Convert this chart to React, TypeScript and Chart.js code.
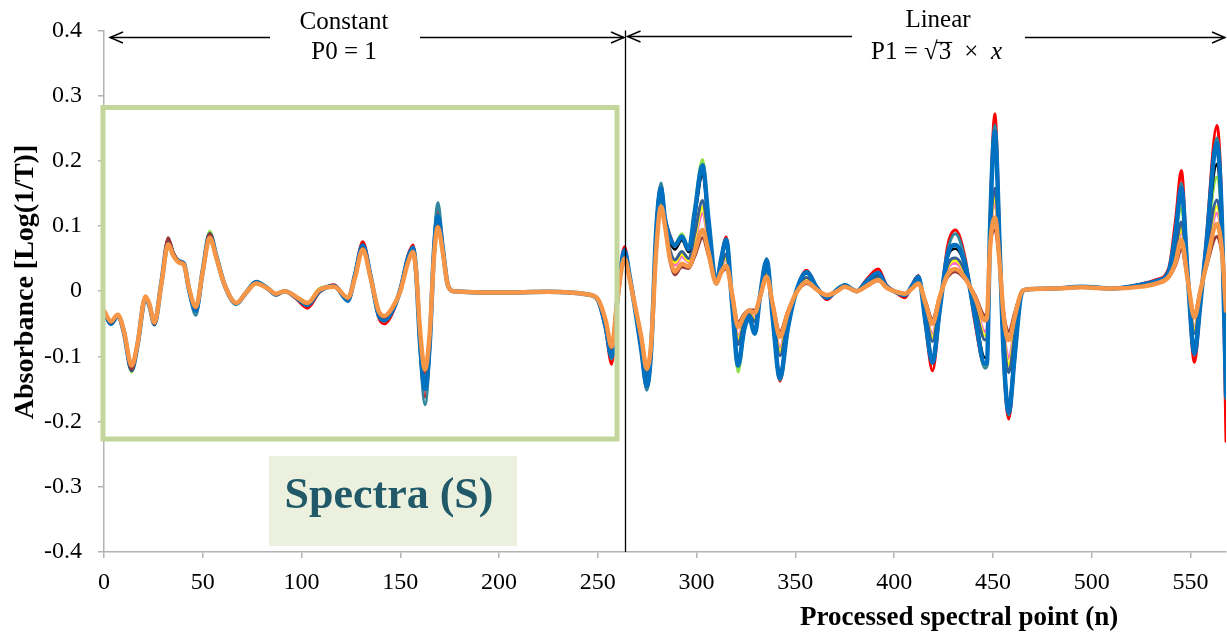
import React, { useEffect, useRef } from 'react';
import { Chart, registerables } from 'chart.js';

Chart.register(...registerables);

// Processed spectral point (n) of each read-off key point
const spectralPoints = [
  0, 3.5, 7, 10, 14, 17, 21, 23, 25.5, 29,
  32.5, 35, 38, 40.5, 43, 46.5, 50, 53.5, 57, 61,
  67, 72, 77, 83, 87, 91.5, 97, 103, 109, 116.5,
  123.5, 127, 131, 135, 139, 142, 146, 150, 154, 156.5,
  158, 160, 162.5, 165, 167, 169, 171.5, 174, 177, 200,
  225, 245, 250, 254, 257, 260, 263.5, 266, 269, 272,
  274.8, 277, 279.5, 282, 284, 286.5, 289, 292.5, 296, 299,
  303, 306, 310, 312.5, 315, 318, 321, 324, 326.5, 329.5,
  332, 335.5, 338.5, 342.2, 346, 350, 355.7, 361, 366, 371,
  375, 381, 386, 392, 396, 400, 405.5, 409, 412.3, 416,
  419.4, 423, 427, 431, 436, 441, 446, 447, 448.5, 451,
  453.5, 455.5, 458, 461, 464, 466, 480, 495, 510, 525,
  533, 539, 542.5, 545.4, 548.5, 552, 555, 558, 563.4, 566,
  568,
];

const spectrumOrange = [
  -0.030, -0.046, -0.036, -0.060, -0.114, -0.080, -0.008, -0.020, -0.048, 0.010,
  0.072, 0.055, 0.044, 0.040, 0.005, -0.024, 0.030, 0.082, 0.050, 0.010,
  -0.018, -0.002, 0.012, 0.004, -0.004, 0.000, -0.008, -0.018, 0.002, 0.007,
  -0.010, 0.020, 0.064, 0.020, -0.030, -0.038, -0.025, 0.000, 0.045, 0.060,
  0.030, -0.060, -0.120, -0.060, 0.050, 0.098, 0.060, 0.010, 0.000, -0.002,
  -0.001, -0.005, -0.012, -0.045, -0.085, -0.010, 0.050,
  0.020, -0.025, -0.070,
  -0.119, -0.080, 0.060, 0.130, 0.100, 0.050, 0.030, 0.042, 0.038, 0.060,
  0.094, 0.060, 0.012, 0.030, 0.039, -0.005, -0.055, -0.038, -0.030, -0.033,
  -0.010, 0.022, -0.020, -0.070, -0.035, -0.005, 0.014, 0.002, -0.006, 0.000,
  0.007, 0.000, 0.008, 0.017, 0.006, 0.000, -0.004, 0.004, 0.012, -0.020,
  -0.050, -0.010, 0.025, 0.034, 0.020, -0.010, -0.045, -0.040, 0.064, 0.113,
  0.040, -0.040, -0.075, -0.040, -0.005, 0.002, 0.004, 0.006, 0.004, 0.007,
  0.012, 0.022, 0.045, 0.079, 0.020, -0.040, 0.000, 0.040, 0.103, 0.060,
  -0.030,
];

const spectrumBrown = [
  -0.031, -0.048, -0.037, -0.061, -0.120, -0.082, -0.009, -0.021, -0.050, 0.011,
  0.082, 0.060, 0.046, 0.042, 0.004, -0.026, 0.031, 0.088, 0.052, 0.010,
  -0.018, -0.002, 0.013, 0.004, -0.004, 0.000, -0.008, -0.019, 0.002, 0.008,
  -0.011, 0.021, 0.066, 0.021, -0.031, -0.040, -0.026, 0.000, 0.046, 0.061,
  0.030, -0.062, -0.124, -0.062, 0.051, 0.100, 0.061, 0.010, 0.000, -0.002,
  -0.001, -0.005, -0.012, -0.046, -0.087, -0.010, 0.051,
  0.019, -0.024, -0.068,
  -0.116, -0.079, 0.056, 0.127, 0.099, 0.046, 0.025, 0.037, 0.035, 0.053,
  0.082, 0.054, 0.012, 0.028, 0.034, -0.003, -0.048, -0.035, -0.029, -0.029,
  -0.010, 0.019, -0.018, -0.062, -0.032, -0.005, 0.012, 0.002, -0.006, 0.000,
  0.007, 0.000, 0.007, 0.016, 0.006, 0.000, -0.004, 0.004, 0.011, -0.016,
  -0.043, -0.008, 0.021, 0.030, 0.018, -0.006, -0.037, -0.032, 0.061, 0.094,
  0.038, -0.033, -0.062, -0.033, -0.004, 0.002, 0.004, 0.006, 0.004, 0.007,
  0.012, 0.021, 0.040, 0.064, 0.019, -0.033, 0.002, 0.036, 0.084, 0.054,
  -0.014,
];

const spectrumBlack = [
  -0.032, -0.050, -0.038, -0.062, -0.122, -0.083, -0.010, -0.022, -0.052, 0.012,
  0.080, 0.059, 0.046, 0.042, 0.003, -0.030, 0.032, 0.088, 0.052, 0.010,
  -0.019, -0.002, 0.014, 0.004, -0.005, 0.000, -0.009, -0.021, 0.000, 0.008,
  -0.014, 0.024, 0.070, 0.022, -0.035, -0.044, -0.030, 0.002, 0.051, 0.065,
  0.030, -0.075, -0.145, -0.072, 0.058, 0.112, 0.064, 0.010, 0.000, -0.002,
  -0.001, -0.005, -0.013, -0.052, -0.097, -0.010, 0.060,
  0.024, -0.029, -0.087,
  -0.141, -0.089, 0.086, 0.154, 0.109, 0.077, 0.064, 0.078, 0.060, 0.111,
  0.178, 0.103, 0.012, 0.047, 0.073, -0.018, -0.105, -0.057, -0.039, -0.060,
  -0.010, 0.043, -0.037, -0.124, -0.056, -0.005, 0.027, 0.005, -0.009, 0.002,
  0.009, 0.000, 0.014, 0.026, 0.008, 0.000, -0.006, 0.007, 0.021, -0.046,
  -0.100, -0.027, 0.051, 0.065, 0.037, -0.036, -0.102, -0.100, 0.086, 0.222,
  0.057, -0.091, -0.169, -0.091, -0.009, 0.002, 0.004, 0.007, 0.004, 0.010,
  0.016, 0.029, 0.083, 0.153, 0.029, -0.090, -0.017, 0.066, 0.195, 0.094,
  -0.140,
];

const spectrumBlue = [
  -0.032, -0.050, -0.038, -0.062, -0.120, -0.082, -0.010, -0.022, -0.050, 0.012,
  0.076, 0.057, 0.046, 0.042, 0.003, -0.030, 0.032, 0.087, 0.052, 0.010,
  -0.019, -0.002, 0.014, 0.004, -0.005, 0.000, -0.009, -0.021, 0.000, 0.008,
  -0.014, 0.024, 0.070, 0.022, -0.036, -0.044, -0.030, 0.002, 0.052, 0.066,
  0.030, -0.080, -0.150, -0.075, 0.060, 0.115, 0.065, 0.010, 0.000, -0.002,
  -0.001, -0.005, -0.013, -0.055, -0.100, -0.010, 0.062,
  0.025, -0.030, -0.090,
  -0.145, -0.090, 0.090, 0.158, 0.110, 0.082, 0.070, 0.084, 0.064, 0.120,
  0.193, 0.110, 0.012, 0.050, 0.079, -0.020, -0.114, -0.060, -0.040, -0.065,
  -0.010, 0.047, -0.040, -0.134, -0.060, -0.005, 0.029, 0.005, -0.010, 0.002,
  0.009, 0.000, 0.015, 0.028, 0.008, 0.000, -0.006, 0.008, 0.022, -0.050,
  -0.109, -0.030, 0.055, 0.071, 0.040, -0.040, -0.112, -0.110, 0.090, 0.245,
  0.060, -0.100, -0.186, -0.100, -0.010, 0.002, 0.004, 0.007, 0.004, 0.010,
  0.016, 0.030, 0.090, 0.158, 0.030, -0.095, -0.020, 0.070, 0.227, 0.100,
  -0.160,
];

const spectrumSlate = [
  -0.032, -0.049, -0.038, -0.062, -0.120, -0.082, -0.010, -0.022, -0.050, 0.012,
  0.078, 0.058, 0.046, 0.042, 0.003, -0.030, 0.032, 0.088, 0.052, 0.010,
  -0.019, -0.002, 0.014, 0.004, -0.005, 0.000, -0.009, -0.020, 0.001, 0.008,
  -0.013, 0.023, 0.069, 0.022, -0.034, -0.043, -0.029, 0.002, 0.050, 0.064,
  0.030, -0.070, -0.138, -0.068, 0.055, 0.108, 0.063, 0.010, 0.000, -0.002,
  -0.001, -0.005, -0.013, -0.050, -0.093, -0.010, 0.056,
  0.022, -0.027, -0.079,
  -0.131, -0.085, 0.074, 0.143, 0.105, 0.064, 0.048, 0.061, 0.050, 0.087,
  0.139, 0.083, 0.012, 0.039, 0.057, -0.012, -0.082, -0.048, -0.035, -0.047,
  -0.010, 0.033, -0.029, -0.099, -0.046, -0.005, 0.021, 0.003, -0.008, 0.001,
  0.008, 0.000, 0.011, 0.022, 0.007, 0.000, -0.005, 0.006, 0.017, -0.034,
  -0.077, -0.019, 0.039, 0.051, 0.029, -0.024, -0.075, -0.072, 0.076, 0.158,
  0.049, -0.067, -0.125, -0.067, -0.007, 0.002, 0.004, 0.006, 0.004, 0.008,
  0.014, 0.026, 0.065, 0.106, 0.025, -0.065, -0.009, 0.054, 0.140, 0.078,
  -0.088,
];

const spectrumYellow = [
  -0.031, -0.047, -0.036, -0.060, -0.116, -0.080, -0.008, -0.020, -0.048, 0.010,
  0.074, 0.056, 0.044, 0.040, 0.005, -0.025, 0.030, 0.083, 0.050, 0.010,
  -0.018, -0.002, 0.012, 0.004, -0.004, 0.000, -0.008, -0.018, 0.002, 0.007,
  -0.010, 0.020, 0.065, 0.020, -0.030, -0.039, -0.025, 0.000, 0.045, 0.060,
  0.030, -0.062, -0.122, -0.061, 0.050, 0.099, 0.060, 0.010, 0.000, -0.002,
  -0.001, -0.005, -0.012, -0.046, -0.086, -0.010, 0.051,
  0.022, -0.027, -0.077,
  -0.128, -0.084, 0.071, 0.140, 0.104, 0.061, 0.044, 0.057, 0.047, 0.081,
  0.129, 0.078, 0.012, 0.037, 0.053, -0.010, -0.076, -0.046, -0.034, -0.044,
  -0.010, 0.031, -0.027, -0.092, -0.044, -0.005, 0.019, 0.003, -0.007, 0.001,
  0.008, 0.000, 0.010, 0.021, 0.007, 0.000, -0.005, 0.005, 0.016, -0.031,
  -0.071, -0.017, 0.036, 0.047, 0.027, -0.021, -0.068, -0.065, 0.073, 0.148,
  0.047, -0.061, -0.114, -0.061, -0.007, 0.002, 0.004, 0.006, 0.004, 0.008,
  0.013, 0.025, 0.061, 0.098, 0.024, -0.059, -0.007, 0.051, 0.130, 0.074,
  -0.075,
];

const spectrumPink = [
  -0.032, -0.050, -0.038, -0.062, -0.122, -0.083, -0.010, -0.022, -0.050, 0.012,
  0.080, 0.058, 0.046, 0.042, 0.004, -0.027, 0.031, 0.086, 0.052, 0.010,
  -0.018, -0.002, 0.013, 0.004, -0.004, 0.000, -0.008, -0.019, 0.002, 0.008,
  -0.012, 0.022, 0.068, 0.021, -0.032, -0.041, -0.027, 0.001, 0.047, 0.062,
  0.030, -0.064, -0.126, -0.063, 0.052, 0.102, 0.062, 0.010, 0.000, -0.002,
  -0.001, -0.005, -0.012, -0.047, -0.089, -0.010, 0.052,
  0.021, -0.026, -0.075,
  -0.126, -0.083, 0.068, 0.137, 0.103, 0.058, 0.040, 0.053, 0.045, 0.075,
  0.119, 0.073, 0.012, 0.035, 0.049, -0.009, -0.070, -0.044, -0.033, -0.041,
  -0.010, 0.028, -0.025, -0.086, -0.041, -0.005, 0.018, 0.003, -0.007, 0.000,
  0.008, 0.000, 0.010, 0.020, 0.007, 0.000, -0.005, 0.005, 0.015, -0.028,
  -0.065, -0.015, 0.033, 0.043, 0.025, -0.018, -0.062, -0.058, 0.071, 0.138,
  0.045, -0.055, -0.103, -0.055, -0.006, 0.002, 0.004, 0.006, 0.004, 0.008,
  0.013, 0.024, 0.056, 0.092, 0.023, -0.054, -0.005, 0.048, 0.120, 0.070,
  -0.062,
];

const spectrumGreen = [
  -0.031, -0.048, -0.037, -0.061, -0.124, -0.083, -0.010, -0.022, -0.050, 0.012,
  0.078, 0.058, 0.046, 0.042, 0.004, -0.027, 0.032, 0.092, 0.054, 0.011,
  -0.018, -0.002, 0.013, 0.004, -0.004, 0.000, -0.008, -0.018, 0.004, 0.008,
  -0.012, 0.022, 0.067, 0.021, -0.032, -0.041, -0.027, 0.001, 0.048, 0.062,
  0.030, -0.066, -0.130, -0.065, 0.052, 0.104, 0.062, 0.010, 0.000, -0.002,
  -0.001, -0.005, -0.012, -0.048, -0.090, -0.010, 0.054,
  0.025, -0.030, -0.090,
  -0.145, -0.090, 0.090, 0.150, 0.110, 0.082, 0.072, 0.088, 0.066, 0.126,
  0.202, 0.114, 0.012, 0.050, 0.079, -0.021, -0.124, -0.062, -0.041, -0.066,
  -0.010, 0.047, -0.040, -0.136, -0.060, -0.005, 0.029, 0.005, -0.010, 0.002,
  0.010, 0.000, 0.015, 0.028, 0.008, 0.000, -0.006, 0.008, 0.022, -0.050,
  -0.109, -0.030, 0.055, 0.071, 0.040, -0.040, -0.114, -0.112, 0.090, 0.240,
  0.060, -0.100, -0.186, -0.100, -0.010, 0.002, 0.004, 0.007, 0.004, 0.010,
  0.016, 0.030, 0.090, 0.128, 0.030, -0.085, -0.018, 0.065, 0.175, 0.090,
  -0.150,
];

const spectrumTeal = [
  -0.033, -0.051, -0.039, -0.063, -0.122, -0.083, -0.011, -0.023, -0.052, 0.011,
  0.077, 0.058, 0.045, 0.040, 0.001, -0.037, 0.031, 0.088, 0.053, 0.011,
  -0.020, -0.002, 0.015, 0.004, -0.005, 0.000, -0.009, -0.022, 0.000, 0.008,
  -0.016, 0.024, 0.071, 0.023, -0.038, -0.046, -0.031, 0.003, 0.054, 0.068,
  0.030, -0.090, -0.174, -0.085, 0.068, 0.136, 0.072, 0.011, 0.000, -0.002,
  -0.001, -0.005, -0.013, -0.058, -0.104, -0.010, 0.064,
  0.025, -0.030, -0.091,
  -0.152, -0.091, 0.091, 0.166, 0.111, 0.083, 0.070, 0.085, 0.065, 0.122,
  0.190, 0.111, 0.012, 0.051, 0.080, -0.020, -0.116, -0.061, -0.040, -0.066,
  -0.010, 0.050, -0.041, -0.136, -0.061, -0.005, 0.030, 0.005, -0.010, 0.002,
  0.009, 0.000, 0.015, 0.029, 0.008, 0.000, -0.006, 0.008, 0.023, -0.051,
  -0.111, -0.031, 0.060, 0.088, 0.046, -0.045, -0.118, -0.115, 0.091, 0.255,
  0.062, -0.102, -0.190, -0.102, -0.010, 0.002, 0.004, 0.007, 0.004, 0.010,
  0.016, 0.031, 0.095, 0.165, 0.030, -0.098, -0.021, 0.072, 0.235, 0.102,
  -0.165,
];

const spectrumRed = [
  -0.032, -0.050, -0.038, -0.062, -0.118, -0.081, -0.009, -0.021, -0.049, 0.012,
  0.078, 0.058, 0.046, 0.042, 0.004, -0.028, 0.032, 0.086, 0.052, 0.010,
  -0.019, -0.002, 0.013, 0.004, -0.006, 0.000, -0.011, -0.026, -0.002, 0.010,
  -0.014, 0.026, 0.076, 0.024, -0.040, -0.050, -0.034, 0.004, 0.056, 0.071,
  0.030, -0.085, -0.162, -0.080, 0.064, 0.125, 0.068, 0.010, 0.000, -0.002,
  -0.001, -0.005, -0.014, -0.060, -0.112, -0.010, 0.068,
  0.026, -0.031, -0.092,
  -0.150, -0.093, 0.094, 0.162, 0.113, 0.086, 0.072, 0.082, 0.063, 0.118,
  0.185, 0.108, 0.012, 0.052, 0.083, -0.020, -0.115, -0.060, -0.040, -0.065,
  -0.010, 0.045, -0.040, -0.138, -0.062, -0.005, 0.032, 0.005, -0.013, 0.002,
  0.009, 0.000, 0.018, 0.034, 0.010, 0.000, -0.010, 0.010, 0.024, -0.055,
  -0.122, -0.035, 0.068, 0.094, 0.050, -0.050, -0.115, -0.113, 0.100, 0.272,
  0.070, -0.110, -0.196, -0.105, -0.010, 0.002, 0.004, 0.007, 0.004, 0.011,
  0.018, 0.035, 0.110, 0.185, 0.030, -0.109, -0.022, 0.080, 0.254, 0.110,
  -0.230,
];

// first listed is drawn on top
const seriesValues = [
  spectrumOrange, spectrumBrown, spectrumBlue, spectrumBlack, spectrumSlate,
  spectrumYellow, spectrumPink, spectrumGreen, spectrumTeal, spectrumRed,
];
const seriesNames = ['S1', 'S2', 'S3', 'S4', 'S5', 'S6', 'S7', 'S8', 'S9', 'S10'];
const seriesColors = [
  '#f79646', '#953735', '#0070c0', '#000000', '#376092',
  '#ffff00', '#ff66cc', '#8ee04a', '#31859c', '#ff0000',
];
const seriesWidths = [4.5, 3, 4.5, 2.5, 3, 3, 3, 3, 3, 3];

const xTickValues = [0, 50, 100, 150, 200, 250, 300, 350, 400, 450, 500, 550];
const xTickLabels = ['0', '50', '100', '150', '200', '250', '300', '350', '400', '450', '500', '550'];
const yTickValues = [-0.4, -0.3, -0.2, -0.1, 0, 0.1, 0.2, 0.3, 0.4];
const yTickLabels = ['-0.4', '-0.3', '-0.2', '-0.1', '0', '0.1', '0.2', '0.3', '0.4'];
const xMax = 568;
const dividerN = 264;

const SERIF = '"Liberation Serif", "Times New Roman", serif';

function drawArrow(ctx: CanvasRenderingContext2D, x1: number, y: number, x2: number) {
  ctx.beginPath();
  ctx.moveTo(x1, y);
  ctx.lineTo(x2, y);
  ctx.stroke();
  const dir = Math.sign(x2 - x1);
  ctx.beginPath();
  ctx.moveTo(x2 - dir * 13, y - 5.5);
  ctx.lineTo(x2, y);
  ctx.lineTo(x2 - dir * 13, y + 5.5);
  ctx.stroke();
}

const annotationPlugin = {
  id: 'spectraAnnotations',
  afterDatasetsDraw(chart: any) {
    const ctx: CanvasRenderingContext2D = chart.ctx;
    const xs = chart.scales.x;
    const ys = chart.scales.y;
    ctx.save();

    // green frame around the constant part
    ctx.strokeStyle = '#c3d69b';
    ctx.lineWidth = 5;
    ctx.strokeRect(103, 107.5, 514, 331.5);

    // divider line
    const xd = Math.round(xs.getPixelForValue(dividerN)) + 0.5;
    ctx.strokeStyle = '#000';
    ctx.lineWidth = 1.3;
    ctx.beginPath();
    ctx.moveTo(xd, ys.top);
    ctx.lineTo(xd, ys.bottom);
    ctx.stroke();

    // arrows
    ctx.lineWidth = 1.4;
    drawArrow(ctx, 270, 37.5, 110);
    drawArrow(ctx, 420, 37.5, xd - 1.5);
    drawArrow(ctx, 852, 36.5, xd + 2);
    drawArrow(ctx, 1025, 37.5, 1225);

    // labels
    ctx.fillStyle = '#000';
    ctx.textBaseline = 'alphabetic';
    ctx.textAlign = 'center';
    ctx.font = `25px ${SERIF}`;
    ctx.fillText('Constant', 344, 29);
    ctx.fillText('P0 = 1', 344, 59);
    ctx.fillText('Linear', 938, 27);

    ctx.textAlign = 'left';
    let x = 871;
    const part1 = 'P1 = √';
    ctx.fillText(part1, x, 59);
    x += ctx.measureText(part1).width;
    const x3 = x + 1;
    ctx.fillText('3', x3, 59);
    const w3 = ctx.measureText('3').width;
    ctx.lineWidth = 1.2;
    ctx.beginPath();
    ctx.moveTo(x - 2, 42.5);
    ctx.lineTo(x3 + w3 + 1, 42.5);
    ctx.stroke();
    ctx.fillText('×', x3 + w3 + 13, 59);
    ctx.font = `italic 25px ${SERIF}`;
    ctx.fillText('x', 991, 59);

    // Spectra (S) label box
    ctx.fillStyle = '#ebf1de';
    ctx.fillRect(269, 456, 248, 90);
    ctx.fillStyle = '#215968';
    ctx.textAlign = 'center';
    ctx.font = `bold 44px ${SERIF}`;
    ctx.fillText('Spectra (S)', 389, 508);

    // axis titles
    ctx.fillStyle = '#000';
    ctx.font = `bold 27px ${SERIF}`;
    ctx.textAlign = 'left';
    ctx.fillText('Processed spectral point (n)', 800, 625);

    ctx.save();
    ctx.font = `bold 28px ${SERIF}`;
    ctx.translate(33, 282);
    ctx.rotate(-Math.PI / 2);
    ctx.textAlign = 'center';
    ctx.fillText('Absorbance [Log(1/T)]', 0, 0);
    ctx.restore();

    ctx.restore();
  },
};

export default function App() {
  const canvasRef = useRef<HTMLCanvasElement | null>(null);

  useEffect(() => {
    document.body.style.margin = '0';
    const canvas = canvasRef.current;
    if (!canvas) return;
    const datasets = seriesValues.map((vals, i) => ({
      label: seriesNames[i],
      data: spectralPoints.map((n, j) => ({ x: n, y: vals[j] })),
      borderColor: seriesColors[i],
      backgroundColor: seriesColors[i],
      borderWidth: seriesWidths[i],
      pointRadius: 0,
      fill: false,
      cubicInterpolationMode: 'monotone' as const,
      borderJoinStyle: 'round' as const,
      borderCapStyle: 'round' as const,
    }));

    const axisColor = '#b3b3b3';
    const chart = new Chart(canvas, {
      type: 'line',
      data: { datasets },
      options: {
        responsive: false,
        animation: false,
        devicePixelRatio: 1,
        layout: { padding: { left: 0, right: 1, top: 14, bottom: 0 }, autoPadding: false },
        plugins: { legend: { display: false }, tooltip: { enabled: false }, title: { display: false } },
        scales: {
          x: {
            type: 'linear',
            min: 0,
            max: xMax,
            afterBuildTicks: (s: any) => { s.ticks = xTickValues.map((v) => ({ value: v })); },
            afterFit: (s: any) => { s.height = 81; },
            grid: { drawOnChartArea: false, drawTicks: true, tickLength: 6, color: axisColor, lineWidth: 1.5 },
            border: { display: true, color: axisColor, width: 1.5 },
            ticks: {
              color: '#000',
              font: { family: SERIF, size: 24 },
              padding: 10,
              maxRotation: 0,
              autoSkip: false,
              callback: (_v: any, i: number) => xTickLabels[i],
            },
          },
          y: {
            type: 'linear',
            min: -0.4,
            max: 0.4,
            afterBuildTicks: (s: any) => { s.ticks = yTickValues.map((v) => ({ value: v })); },
            afterFit: (s: any) => { s.width = 104; },
            grid: { drawOnChartArea: false, drawTicks: true, tickLength: 6, color: axisColor, lineWidth: 1.5 },
            border: { display: true, color: axisColor, width: 1.5 },
            ticks: {
              color: '#000',
              font: { family: SERIF, size: 24 },
              padding: 16,
              autoSkip: false,
              callback: (_v: any, i: number) => yTickLabels[i],
            },
          },
        },
      },
      plugins: [annotationPlugin],
    } as any);
    return () => chart.destroy();
  }, []);

  return (
    <div style={{ width: 1227, height: 633 }}>
      <canvas ref={canvasRef} width={1227} height={633} style={{ width: '1227px', height: '633px', display: 'block' }} />
    </div>
  );
}
